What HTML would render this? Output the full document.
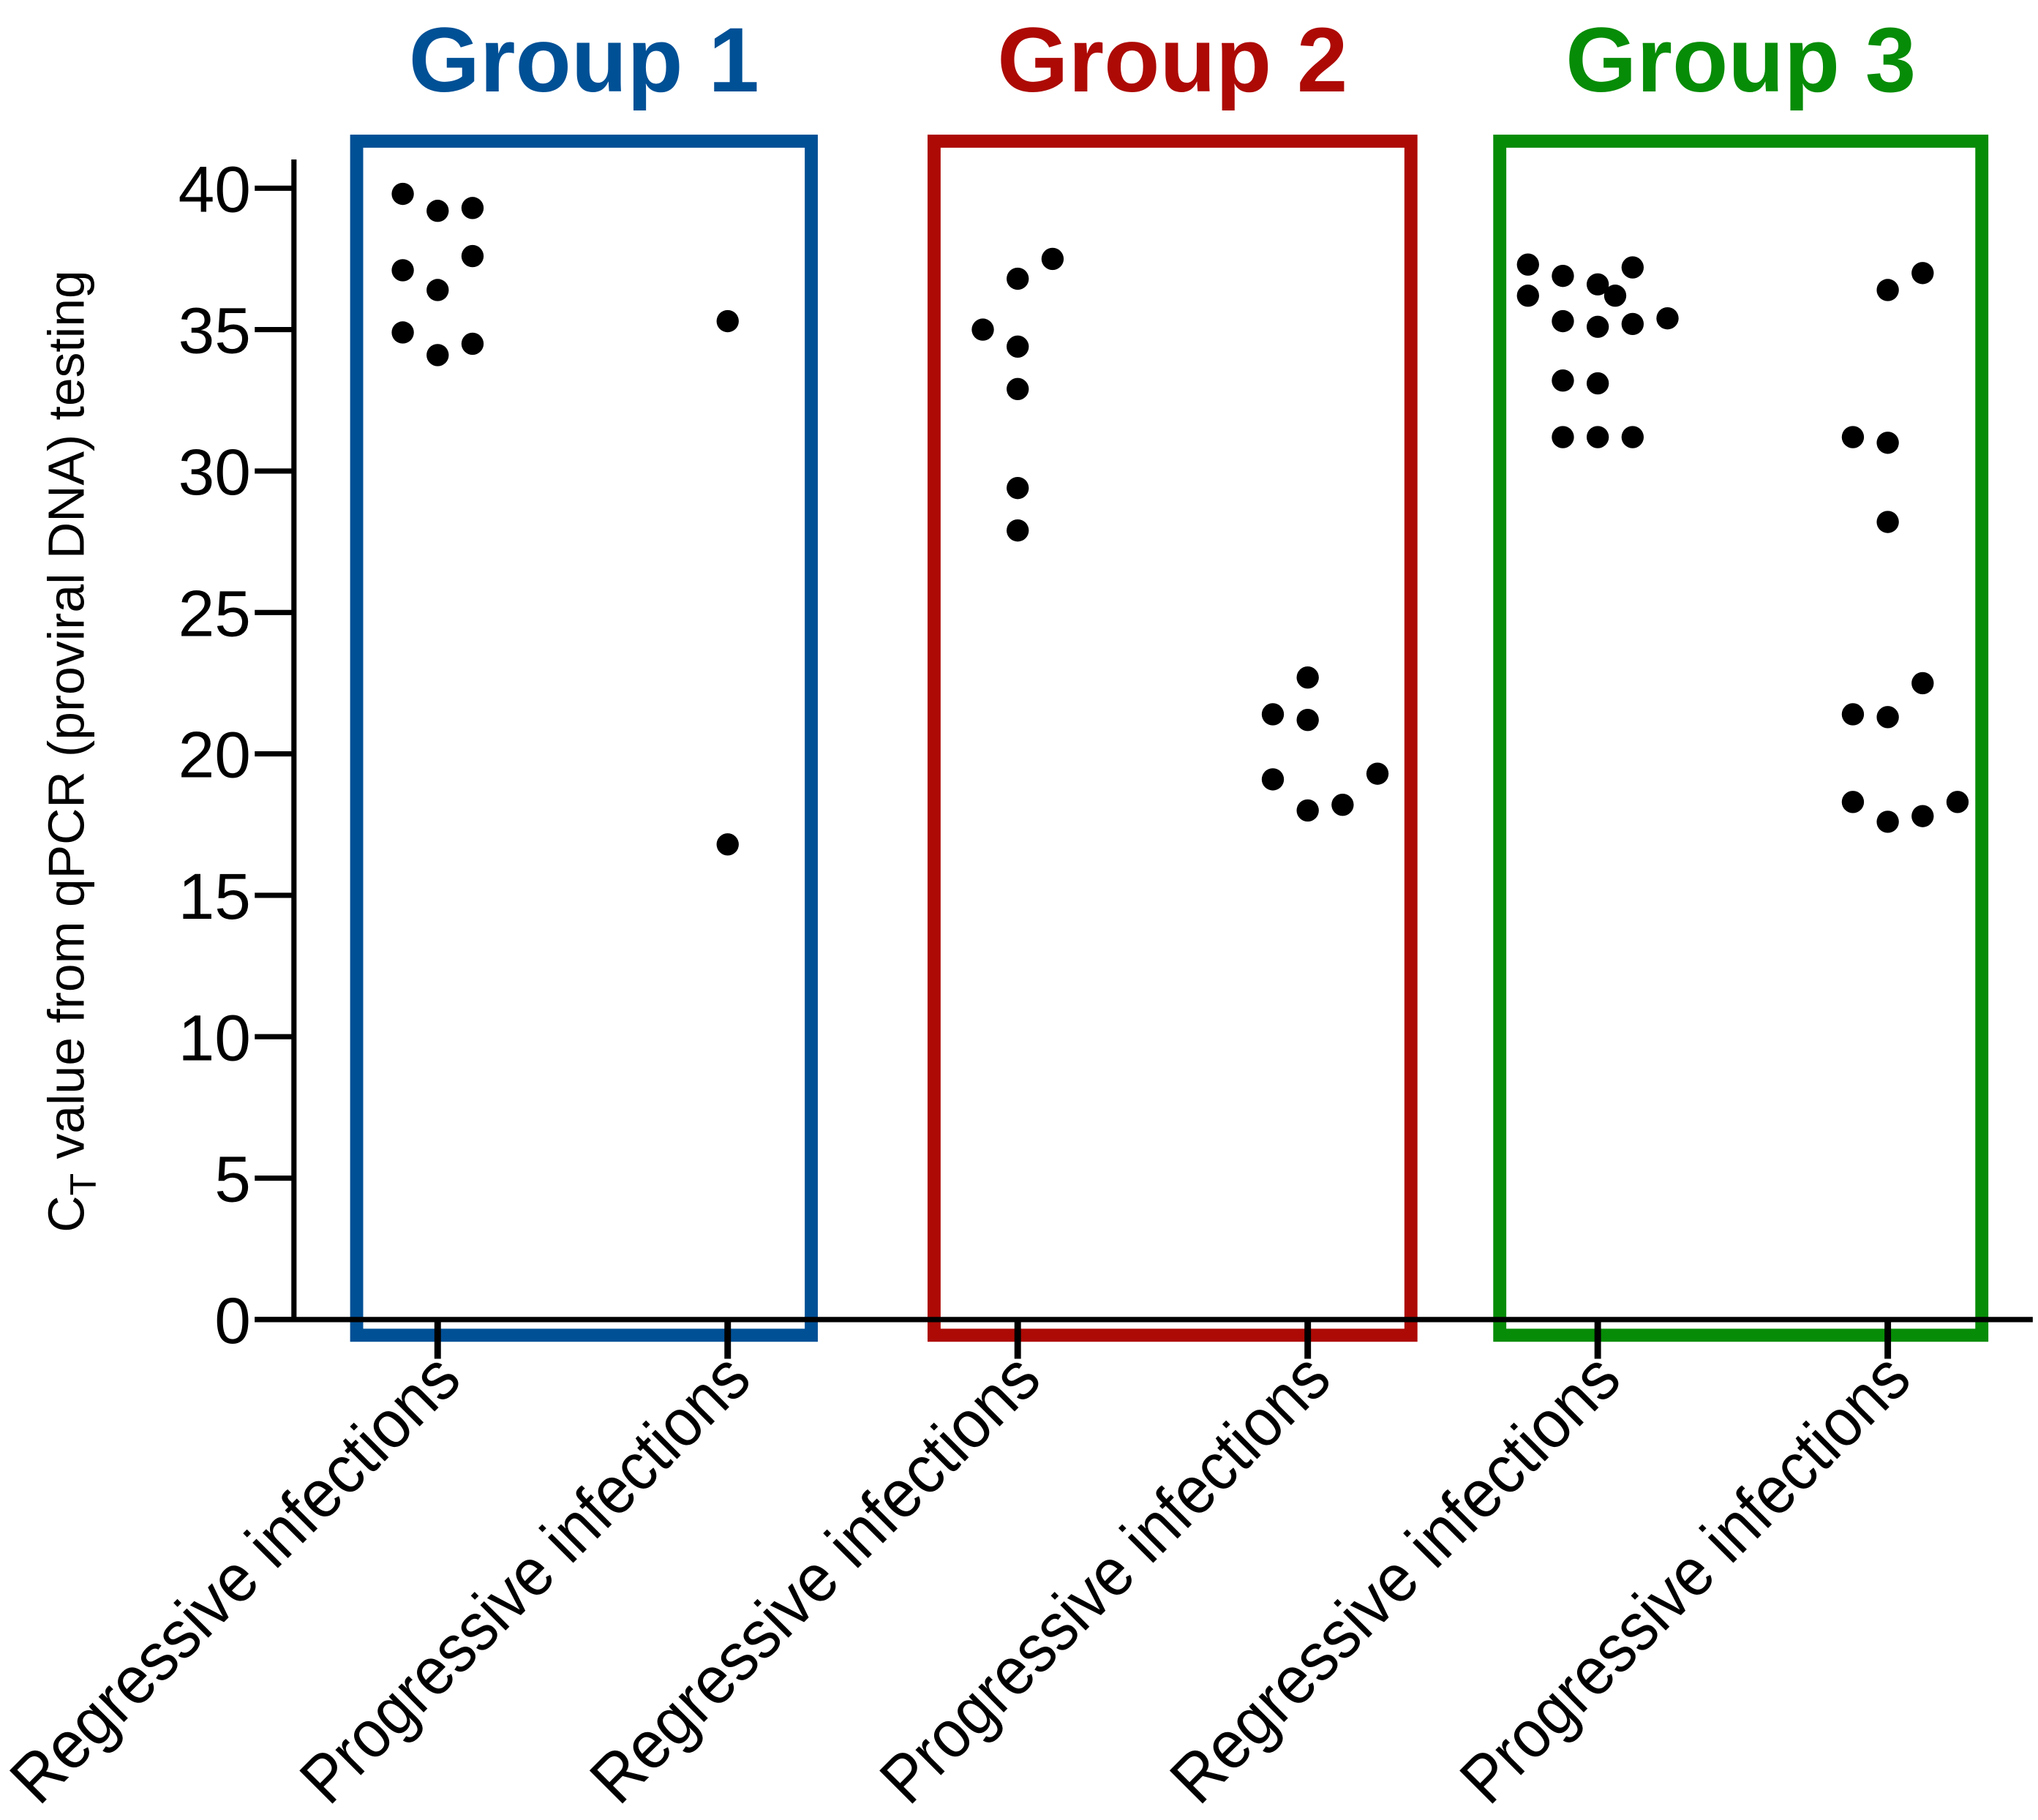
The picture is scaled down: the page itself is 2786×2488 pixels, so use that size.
<!DOCTYPE html>
<html><head><meta charset="utf-8"><style>
html,body{margin:0;padding:0;background:#fff}
svg{display:block}
text{font-family:"Liberation Sans",sans-serif}
</style></head><body>
<svg id="chart" width="2786" height="2488" viewBox="0 0 1560 1393" xmlns="http://www.w3.org/2000/svg">
<g id="boxes"></g>
<g id="axes"></g>
<g id="points"></g>
</svg>
<script>
const categories = ["Regressive infections","Progressive infections","Regressive infections","Progressive infections","Regressive infections","Progressive infections"];
const groupNames = ["Group 1","Group 2","Group 3"];
const groupColors = ["#005096","#ad0a05","#078c07"];
const yTicks = [0,5,10,15,20,25,30,35,40];
// values per category
const cat0Values = [39.8,39.2,39.3,37.1,36.4,37.6,34.9,34.1,34.5];
const cat0Dodge  = [-1,0,1,-1,0,1,-1,0,1];
const cat1Values = [35.3,16.8];
const cat1Dodge  = [0,0];
const cat2Values = [37.5,36.8,35.0,34.4,32.9,29.4,27.9];
const cat2Dodge  = [1,0,-1,0,0,0,0];
const cat3Values = [22.7,21.4,21.2,19.1,19.3,18.0,18.2];
const cat3Dodge  = [0,-1,0,-1,2,0,1];
const cat4Values = [37.3,36.9,37.2,36.6,36.2,36.2,35.3,35.1,35.2,35.4,33.2,33.1,31.2,31.2,31.2];
const cat4Dodge  = [-2,-1,1,0,0.5,-2,-1,0,1,2,-1,0,-1,0,1];
const cat5Values = [37.0,36.4,31.2,31.0,28.2,22.5,21.4,21.3,18.3,18.3,17.6,17.8];
const cat5Dodge  = [1,0,-1,0,0,1,-1,0,-1,2,0,1];
const allValues = [cat0Values,cat1Values,cat2Values,cat3Values,cat4Values,cat5Values];
const allDodge = [cat0Dodge,cat1Dodge,cat2Dodge,cat3Dodge,cat4Dodge,cat5Dodge];

const NS="http://www.w3.org/2000/svg";
const X0=335, XSTEP=222, Y0=1010, YPX=866/40, DODGE=26.7;
const xScale=i=>X0+i*XSTEP;
const yScale=v=>Y0-v*YPX;
const boxLeft=[273,715,1148], boxRight=[621,1080,1517];
function mk(tag,attrs,parent,txt){const e=document.createElementNS(NS,tag);for(const k in attrs)e.setAttribute(k,attrs[k]);if(txt!==undefined)e.textContent=txt;parent.appendChild(e);return e;}
const boxes=document.getElementById('boxes'),axes=document.getElementById('axes'),pts=document.getElementById('points');

let yl=mk('line',{x1:225,y1:122,x2:225,y2:1012,stroke:'#000','stroke-width':4},axes);


let xl=mk('line',{x1:195,y1:Y0,x2:1556,y2:Y0,stroke:'#000','stroke-width':4},axes);


yTicks.forEach(t=>{
  const y=yScale(t);
  let tk=mk('line',{x1:195,y1:y,x2:225,y2:y,stroke:'#000','stroke-width':4},axes);
  
  
  let lb=mk('text',{x:192,y:y+18,'text-anchor':'end','font-size':50},axes,String(t));
  
  
});
let yt=mk('text',{transform:'translate(64,575) rotate(-90)','text-anchor':'middle','font-size':39},axes);


yt.innerHTML='C<tspan font-size="28" dy="9">T</tspan><tspan dy="-9"> value from qPCR (proviral DNA) testing</tspan>';

categories.forEach((c,i)=>{
  const x=xScale(i);
  let tk=mk('line',{x1:x,y1:Y0,x2:x,y2:1040,stroke:'#000','stroke-width':5},axes);
  
  
  let lb=mk('text',{transform:`translate(${x+20},${1058}) rotate(-45)`,'text-anchor':'end','font-size':52,textLength:460,lengthAdjust:'spacingAndGlyphs'},axes,c);
  
  
});

groupNames.forEach((g,k)=>{
  const xa=boxLeft[k], xb=boxRight[k];
  let r=mk('rect',{x:xa,y:108,width:xb-xa,height:914,fill:'none',stroke:groupColors[k],'stroke-width':10},boxes);
  
  
  let t=mk('text',{x:(xa+xb)/2,y:70,'text-anchor':'middle','font-size':70,'font-weight':'bold',fill:groupColors[k]},boxes,g);
  
  
});

allValues.forEach((vals,i)=>{
  vals.forEach((v,j)=>{
    let p=mk('circle',{cx:xScale(i)+allDodge[i][j]*DODGE,cy:yScale(v),r:8.5,fill:'#000'},pts);
    
    
  });
});
</script>
</body></html>
